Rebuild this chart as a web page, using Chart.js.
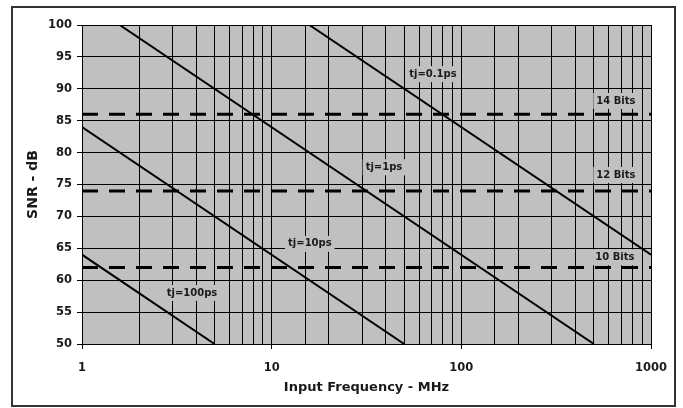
<!DOCTYPE html>
<html><head><meta charset="utf-8">
<script src="https://cdn.jsdelivr.net/npm/chart.js@4/dist/chart.umd.min.js"></script>
<style>html,body{margin:0;padding:0;background:#fff}#wrap{width:683px;height:408px;position:relative}</style>
</head><body><div id="wrap"><canvas id="c" width="683" height="408"></canvas></div>
<script>
// Data
const xTickLabels = [1, 10, 100, 1000];
const yTicks = [50, 55, 60, 65, 70, 75, 80, 85, 90, 95, 100];
const jitterNames = ['tj=0.1ps', 'tj=1ps', 'tj=10ps', 'tj=100ps'];
const jitterFreq = [[15.8, 1000], [1.58, 500], [1, 50], [1, 5]];
const jitterSnr = [[100, 64], [100, 50], [84, 50], [64, 50]];
const bitNames = ['14 Bits', '12 Bits', '10 Bits'];
const bitSnr = [86, 74, 62];
const bitFreq = [1, 1000];
const noteTexts = ['tj=0.1ps', 'tj=1ps', 'tj=10ps', 'tj=100ps', '14 Bits', '12 Bits', '10 Bits'];
const noteFreq = [70.8, 39.1, 15.9, 3.8, 653, 653, 645];
const noteSnr = [92.3, 77.7, 65.7, 58.0, 88.1, 76.5, 63.6];

const FONT = '"DejaVu Sans", sans-serif';
const BG = '#c0c0c0';

const datasets = [];
jitterNames.forEach((n, i) => datasets.push({
  label: n,
  data: jitterFreq[i].map((f, j) => ({x: f, y: jitterSnr[i][j]})),
  borderColor: '#000', borderWidth: 2, pointRadius: 0, fill: false, tension: 0
}));
bitNames.forEach((n, i) => datasets.push({
  label: n,
  data: bitFreq.map(f => ({x: f, y: bitSnr[i]})),
  borderColor: '#000', borderWidth: 3, borderDash: [16, 11], pointRadius: 0, fill: false
}));

const plotBg = {
  id: 'plotBg',
  beforeDraw(chart) {
    const {ctx, chartArea: a} = chart;
    ctx.save();
    ctx.fillStyle = '#fff';
    ctx.fillRect(0, 0, chart.width, chart.height);
    ctx.fillStyle = BG;
    ctx.fillRect(a.left, a.top, a.right - a.left, a.bottom - a.top);
    ctx.strokeStyle = '#333';
    ctx.lineWidth = 2;
    ctx.strokeRect(12, 7, 663, 399);
    ctx.restore();
  },
  beforeDatasetsDraw(chart) {
    const {ctx, scales: {x, y}} = chart;
    ctx.save();
    ctx.font = 'bold 10px ' + FONT;
    ctx.textAlign = 'center';
    ctx.textBaseline = 'middle';
    noteTexts.forEach((t, i) => {
      const px = x.getPixelForValue(noteFreq[i]);
      const py = y.getPixelForValue(noteSnr[i]);
      const w = ctx.measureText(t).width + 6;
      ctx.fillStyle = BG;
      ctx.fillRect(px - w / 2, py - 8, w, 16);
      ctx.fillStyle = '#1a1a1a';
      ctx.fillText(t, px, py);
    });
    ctx.restore();
  }
};

new Chart(document.getElementById('c'), {
  type: 'line',
  data: {datasets},
  options: {
    responsive: false, animation: false,
    layout: {padding: {left: 20, right: 32, top: 25, bottom: 0}},
    plugins: {legend: {display: false}, tooltip: {enabled: false}},
    scales: {
      x: {
        type: 'logarithmic', min: 1, max: 1000,
        border: {color: '#000', width: 1},
        grid: {color: '#000', lineWidth: 1, drawTicks: true, tickLength: 5,
          tickColor: c => (c.tick && xTickLabels.includes(c.tick.value)) ? '#000' : 'rgba(0,0,0,0)'},
        ticks: {autoSkip: false, maxRotation: 0, padding: 12, color: '#1a1a1a',
          font: {family: FONT, size: 11.5, weight: 'bold'},
          callback: v => xTickLabels.includes(v) ? String(v) : ''},
        title: {display: true, text: 'Input Frequency - MHz', color: '#1a1a1a',
          font: {family: FONT, size: 13, weight: 'bold'}, padding: {top: 0, bottom: 13}},
        afterFit: s => { s.height = 64; }
      },
      y: {
        type: 'linear', min: 50, max: 100,
        border: {color: '#000', width: 1},
        afterBuildTicks: s => { s.ticks = yTicks.map(v => ({value: v})); },
        grid: {color: '#000', lineWidth: 1, tickLength: 5, tickColor: '#000'},
        ticks: {padding: 5, color: '#1a1a1a', font: {family: FONT, size: 11.5, weight: 'bold'}},
        title: {display: true, text: 'SNR - dB', color: '#1a1a1a',
          font: {family: FONT, size: 14, weight: 'bold'}, padding: {top: 5, bottom: 0}},
        afterFit: s => { s.width = 62; }
      }
    }
  },
  plugins: [plotBg]
});
</script></body></html>
